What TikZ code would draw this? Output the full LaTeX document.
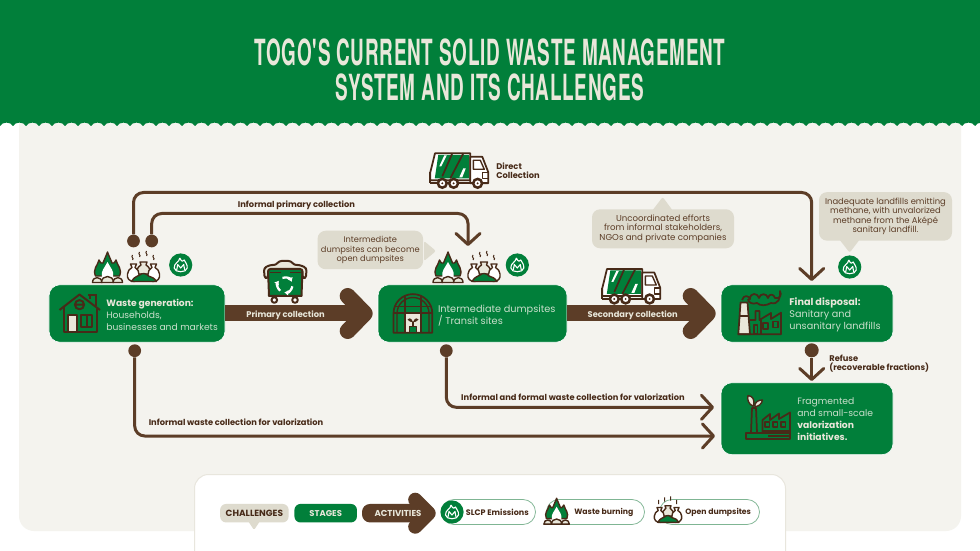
\documentclass[tikz,border=0pt]{standalone}
\usepackage{fontspec}
\setmainfont{Poppins}
\newfontfamily\titlefont[FakeStretch=0.525,LetterSpace=2]{TeX Gyre Heros}
\usetikzlibrary{arrows.meta}
\usetikzlibrary{positioning}
\definecolor{tgreen}{HTML}{017F3A}
\definecolor{tbrown}{HTML}{5C3D27}
\definecolor{tdark}{HTML}{472A18}
\definecolor{tpanel}{HTML}{F4F3EE}
\definecolor{tcall}{HTML}{DEDBCE}
\definecolor{tcream}{HTML}{E9E7DA}
\definecolor{tsoft}{HTML}{C9DFCB}
\definecolor{tpill}{HTML}{7FB593}
\tikzset{
  stagebox/.style={rectangle,rounded corners=2.2mm,fill=tgreen,draw=white,line width=0.12mm,inner sep=0},
  dotnode/.style={circle,fill=tbrown,inner sep=0,minimum size=2.55mm},
  thinarrow/.style={draw=tbrown,line width=0.6mm,rounded corners=2mm,-{Straight Barb[length=2.2mm,width=4.8mm,round]}},
  bigarrow/.style={draw=tbrown,line width=3.2mm,-{Straight Barb[length=3.4mm,width=7mm,round]}},
  steptext/.style={text=tsoft,align=left,anchor=west,inner sep=0},
  actlabel/.style={font=\fontsize{4.72}{5.2}\selectfont\bfseries,text=tdark,align=left,inner sep=0},
  leglabel/.style={font=\fontsize{4.4}{5}\selectfont\bfseries,text=tdark,anchor=west,inner sep=0},
  calltext/.style={rectangle,rounded corners=1.6mm,fill=tcall,text=tbrown,align=center,inner sep=0,execute at begin node=\rule{0pt}{5.4pt}},
  pillbox/.style={rectangle,rounded corners=2.5mm,draw=tpill,line width=0.15mm,fill=white,minimum height=5mm,inner sep=0},
  iconline/.style={draw=tdark,line width=0.28mm,line join=round},
  pics/burnicon/.style={code={
    \draw[iconline,fill=tgreen] (-12,9) .. controls (-15,2) and (-10,-1) .. (-8.5,-7) .. controls (-7,-4) and (-5.5,-3) .. (-4.5,-4) .. controls (-3,-8) and (-1,-12) .. (0,-15) .. controls (1,-12) and (3,-8) .. (4.5,-4) .. controls (5.5,-3) and (7,-4) .. (8.5,-7) .. controls (10,-1) and (15,2) .. (12,9) -- cycle;
    \fill[white] (-5.5,10) .. controls (-7,4) and (-3,1) .. (0,-5) .. controls (3,1) and (7,4) .. (5.5,10) -- cycle;
    \draw[iconline,fill=tcream] (-15,15.5) .. controls (-15,9) and (-6,9) .. (-5.5,15.5) -- cycle;
    \draw[iconline,fill=tcream] (-6,15.5) .. controls (-6,7.5) and (6,7.5) .. (6,15.5) -- cycle;
    \draw[iconline,fill=tcream] (5.5,15.5) .. controls (6,9) and (15,9) .. (15,15.5) -- cycle;
  }},
  pics/dumpicon/.style={code={
    \draw[iconline,fill=tcream] (-3.5,-5) -- (3.5,-5) -- (2.5,-2) .. controls (6,0) and (7,3) .. (7,7) -- (-7,7) .. controls (-7,3) and (-6,0) .. (-2.5,-2) -- cycle;
    \draw[iconline,fill=white] (-13,-3) -- (-7,-3) -- (-8.5,0.5) .. controls (-3,3) and (-3,13) .. (-9,14.5) .. controls (-14,15) and (-17,11) .. (-16,7) .. controls (-16,4) and (-14,2) .. (-11.5,0.5) -- cycle;
    \draw[iconline,fill=white] (13,-3) -- (7,-3) -- (8.5,0.5) .. controls (3,3) and (3,13) .. (9,14.5) .. controls (14,15) and (17,11) .. (16,7) .. controls (16,4) and (14,2) .. (11.5,0.5) -- cycle;
    \draw[iconline,fill=tgreen] (-12,14.5) .. controls (-9,9) and (-6,10) .. (-4,8) .. controls (-1,5.5) and (3,6.5) .. (5,9) .. controls (8,10) and (11,11) .. (13,14.5) -- cycle;
    \foreach \fx/\fy in {-11/-7,-4/-10,3/-11,10/-7} {
      \draw[draw=tdark,line width=0.2mm] (\fx,\fy) .. controls (\fx+2,\fy-2) and (\fx-2,\fy-2.5) .. (\fx,\fy-5);
    }
  }},
  pics/slcpicon/.style={code={
    \fill[tgreen] (0,0) circle[radius=11.6];
    \draw[white,line width=0.22mm,line join=round] (-1,-7) .. controls (-1,-3) and (-7,-2) .. (-6.5,3) .. controls (-6,8) and (6,8) .. (6.5,3) .. controls (7,-1) and (4,-3) .. (3.5,-5) .. controls (2.5,-3) and (1,-3) .. (-1,-7);
    \draw[white,line width=0.22mm,line join=round] (-4,5) -- (-3,-0.5) -- (0,3) -- (3,-0.5) -- (4,5);
  }},
  pics/truckicon/.style={code={
    \draw[iconline,line width=0.35mm,fill=white] (4.7,0) -- (40,0) -- (40,27) -- (0,27) -- (0,19) -- cycle;
    \fill[tgreen] (8,1.5) -- (38.5,1.5) -- (38.5,25) -- (4.5,25) -- cycle;
    \fill[white] (14,2) -- (16.5,2) -- (11,13) -- (9,13) -- cycle;
    \fill[white] (33,15) -- (35.5,15) -- (32,24) -- (29,24) -- cycle;
    \draw[iconline,line width=0.35mm] (22,0) -- (12,23) (33,0) -- (20,25);
    \draw[iconline,line width=0.35mm,fill=white] (40,3.5) -- (52,3.5) -- (58,19) -- (58,30) -- (40,30) -- cycle;
    \draw[iconline] (43,7) -- (50,7) -- (54,16) -- (43,16) -- cycle;
    \draw[iconline] (52,19) rectangle (58,25);
    \draw[iconline,line width=0.35mm] (0,30) -- (58,30) (0,19) -- (0,30);
    \foreach \wx in {12,23.3,47.3} {
      \draw[draw=tdark,line width=0.5mm,fill=white] (\wx,30) circle[radius=4.4];
      \fill[tdark] (\wx,30) circle[radius=1.1];
    }
  }}
}
\begin{document}
\begin{tikzpicture}[x=0.2mm,y=-0.2mm]
\useasboundingbox (0,0) rectangle (980,551);
\fill[white] (0,0) rectangle (980,551);
\fill[tpanel,rounded corners=3mm] (19,100) rectangle (961,531);
\fill[tgreen] (0,0) rectangle (980,121);
\foreach \sx in {0,13,...,975} {
  \fill[tgreen] (\sx,120.5) -- (\sx+13,120.5) -- (\sx+13,126) .. controls (\sx+11,121.5) and (\sx+2,121.5) .. (\sx,126) -- cycle;
}
\node[font=\titlefont\bfseries\fontsize{20.5}{19.9}\selectfont,text=tcream,align=center,inner sep=0] (title) at (490,70) {TOGO'S CURRENT SOLID WASTE MANAGEMENT\\SYSTEM AND ITS CHALLENGES};

% stages
\node[stagebox,minimum width=35.2mm,minimum height=11.5mm] (waste) at (137,313.5) {};
\node[stagebox,minimum width=37.8mm,minimum height=11.5mm] (dumps) at (472.5,313.5) {};
\node[stagebox,minimum width=34.4mm,minimum height=11.5mm] (final) at (807,313.5) {};
\node[stagebox,minimum width=34.4mm,minimum height=14.4mm] (valor) at (807,418.7) {};
\node[steptext,font=\fontsize{5.22}{6.8}\selectfont] (wastetxt) at (106,315) {\textcolor{tcream}{\bfseries Waste generation:}\\Households,\\businesses and markets};
\node[steptext,font=\fontsize{5.55}{6.8}\selectfont] (dumpstxt) at (437.7,315.5) {Intermediate dumpsites\\/ Transit sites};
\node[steptext,font=\fontsize{5.5}{6.8}\selectfont] (finaltxt) at (789,315) {\textcolor{tcream}{\bfseries Final disposal:}\\Sanitary and\\unsanitary landfills};
\node[steptext,font=\fontsize{5.25}{6.8}\selectfont] (valortxt) at (797,419.5) {Fragmented\\and small-scale\\\textcolor{tcream}{\bfseries valorization}\\\textcolor{tcream}{\bfseries initiatives.}};

% activities
\draw[bigarrow,shorten >=1mm] (waste.east) -- (dumps.west);
\draw[bigarrow,shorten >=1mm] (dumps.east) -- (final.west);
\node[font=\fontsize{4.73}{6}\selectfont\bfseries,text=tcream,inner sep=0] (primlab) at (285.5,315) {Primary collection};
\node[font=\fontsize{4.73}{6}\selectfont\bfseries,text=tcream,inner sep=0] (seclab) at (632.7,315) {Secondary collection};

\node[dotnode] (dota) at (133.5,241) {};
\node[dotnode] (dotb) at (151.7,241) {};
\node[dotnode] (dotc) at (134.7,350.7) {};
\node[dotnode] (dotd) at (446.3,350.7) {};
\node[dotnode,minimum size=2.8mm] (dote) at (811.7,350.3) {};
\coordinate (tipa) at (811.7,281);
\coordinate (tipb) at (468,246);
\coordinate (tipc) at (715,436);
\coordinate (tipd) at (714,407.3);
\draw[thinarrow] (dota) -- (133.5,192.5) -- (811.7,192.5) -- (tipa);
\draw[thinarrow] (dotb) -- (151.7,213.5) -- (468,213.5) -- (tipb);
\draw[thinarrow] (dotc) -- (134.7,436) -- (tipc);
\draw[thinarrow] (dotd) -- (446.3,407.3) -- (tipd);
\draw[thinarrow] (dote) -- (811.7,381);

\node[actlabel] (lab1) at (296.5,205) {Informal primary collection};
\node[actlabel,anchor=west] (lab2) at (496,170.5) {Direct\\Collection};
\node[actlabel] (lab3) at (573,397.5) {Informal and formal waste collection for valorization};
\node[actlabel] (lab4) at (236,422.5) {Informal waste collection for valorization};
\node[actlabel,anchor=west] (lab5) at (829,363.5) {Refuse\\(recoverable fractions)};

% challenges
\node[calltext,font=\fontsize{4.7}{5.45}\selectfont,minimum width=21.1mm,minimum height=7.7mm] (call1) at (370.3,250) {Intermediate\\dumpsites can become\\open dumpsites};
\fill[tcall,rounded corners=0.4mm] (424,241) -- (436,251) -- (424,261) -- cycle;
\node[calltext,font=\fontsize{4.9}{5.45}\selectfont,minimum width=28.4mm,minimum height=7.8mm] (call2) at (663,228.8) {Uncoordinated efforts\\from informal stakeholders,\\NGOs and private companies};
\fill[tcall,rounded corners=0.4mm] (652,211) -- (662.7,197) -- (673,211) -- cycle;
\node[calltext,font=\fontsize{4.78}{5.45}\selectfont,minimum width=26.6mm,minimum height=9.7mm] (call3) at (885.5,216.4) {Inadequate landfills emitting\\methane, with unvalorized\\methane from the Aképé\\sanitary landfill.};
\fill[tcall,rounded corners=0.4mm] (839,239) -- (849.7,252.7) -- (860,239) -- cycle;

% small icons
\pic at (107.5,267) {burnicon};
\pic at (143.5,267) {dumpicon};
\pic at (180.7,265) {slcpicon};
\pic at (448,267) {burnicon};
\pic at (484,267) {dumpicon};
\pic at (517.3,265) {slcpicon};
\pic at (849.7,267) {slcpicon};
\pic at (430.3,153.3) {truckicon};
\pic at (602.3,269) {truckicon};

% house
\draw[iconline,line width=0.4mm] (59.5,310) -- (79.5,294.5) -- (100,310);
\draw[iconline,line width=0.4mm] (64,307) -- (64,332) -- (96.5,332) -- (96.5,307);
\draw[iconline,line width=0.4mm] (90,299) -- (90,295) -- (95.5,295) -- (95.5,306) (88,295) -- (97,295);
\draw[iconline,line width=0.4mm] (79.5,304.7) circle[radius=4.6] (76,304.7) -- (83,304.7);
\draw[iconline,line width=0.4mm,fill=tcream] (68,315) rectangle (77,332);
\draw[iconline,line width=0.4mm] (81,315) rectangle (92,327) (86.5,315) -- (86.5,327);

% bin
\draw[iconline,line width=0.4mm,fill=tgreen] (268,269) -- (302.5,269) -- (301.5,296) -- (269,296) -- cycle;
\draw[iconline,line width=0.4mm,fill=tcream,rounded corners=0.5mm] (264.5,278) -- (264,268) -- (270,265) -- (276,265) -- (279,261) -- (291,261) -- (294,265) -- (300,265) -- (306.5,268) -- (306,278) -- (302.5,278) -- (302.5,269) -- (268,269) -- (268,278) -- cycle;
\draw[iconline] (270,272.5) -- (281,272.5) (290,272.5) -- (301,272.5);
\foreach \ra in {10,130,250} {
  \draw[white,line width=0.45mm,-{Latex[length=0.8mm,width=1.2mm]}] ([shift={(\ra:7.5)}]285,285) arc[start angle=\ra,delta angle=85,radius=7.5];
}
\draw[iconline,line width=0.4mm,fill=white] (274.3,300) circle[radius=2.8];
\draw[iconline,line width=0.4mm,fill=white] (295,300) circle[radius=2.8];

% greenhouse
\draw[iconline,fill=tcream] (405,313) rectangle (421,332.7);
\draw[iconline,line width=0.35mm] (393.5,332.7) -- (393.5,313.5) arc[start angle=180,end angle=360,radius=19.4] -- (432.3,332.7) -- cycle;
\draw[iconline] (397,332.7) -- (397,313.5) arc[start angle=180,end angle=360,radius=16] -- (429,332.7);
\draw[iconline] (393.5,313) -- (432.3,313) (393.5,306.5) -- (432.3,306.5) (405,296) -- (405,332.7) (421,296) -- (421,332.7);
\fill[tgreen] (409.3,326.7) rectangle (416.5,332.7);
\draw[iconline] (409.3,326.7) rectangle (416.5,332.7) (413,326.7) -- (413,322);
\fill[tdark] (413,322) .. controls (411,317) and (408,318) .. (407.5,319.5) .. controls (409,322) and (411,322) .. (413,322);
\fill[tdark] (413,322) .. controls (415,317) and (418,318) .. (418.5,319.5) .. controls (417,322) and (415,322) .. (413,322);

% landfill plant
\draw[iconline,line width=0.35mm] (742,300) .. controls (744,294) and (749,296) .. (750,299) .. controls (750,292) and (758,293) .. (759,298) .. controls (760,293) and (767,293) .. (768,298) .. controls (769,293) and (774,294) .. (775,298) .. controls (780,299) and (782,295) .. (780,291) .. controls (781,298) and (778,305) .. (771,303) .. controls (766,306) and (760,306) .. (757,303) .. controls (752,305) and (748,302) .. (748,299);
\draw[iconline,line width=0.35mm,fill=tcream] (740.5,302.5) -- (747.5,302.5) -- (750,334.3) -- (738.3,334.3) -- cycle;
\draw[iconline,line width=0.35mm] (739.5,316) -- (748.5,316);
\draw[iconline,line width=0.35mm] (750,320) -- (755.5,320) -- (755.5,311) -- (759.5,311) -- (759.5,320) -- (771,313) -- (771,319) -- (781,312.7) -- (781,334.3) -- (738.3,334.3);
\draw[iconline] (754,325) rectangle (757.5,334) (763,323) rectangle (768,329) (773,321.5) rectangle (778,327.5) (761,320) -- (761,334);

% valorization plant
\draw[iconline,line width=0.35mm] (751,433) -- (752,408) -- (756,408) -- (757,433);
\draw[iconline,fill=tcream] (753.5,406.5) .. controls (748,404) and (747,399) .. (748,395.5) .. controls (753,396) and (755,400) .. (753.5,406.5);
\draw[iconline,fill=tcream] (754.5,406.5) .. controls (755,402) and (758,400) .. (762.5,400) .. controls (762,404) and (758,407) .. (754.5,406.5);
\draw[iconline,line width=0.35mm] (762.5,433) -- (762.5,420) -- (770,414) -- (770,420) -- (779,413.5) -- (779,419) -- (790,412.5) -- (790,433);
\draw[iconline] (765,422) rectangle (769.5,427) (773,422) rectangle (777.5,427) (781,422) rectangle (785.5,427);
\draw[iconline,line width=0.35mm] (746,433) rectangle (790,439);
\draw[iconline] (762,431) -- (790,431) (768,436) -- (790,436);

% legend
\draw[draw=tcall!70,line width=0.2mm,fill=white,rounded corners=2.8mm] (194.5,553) -- (194.5,474.5) -- (785.5,474.5) -- (785.5,553);
\node[rectangle,rounded corners=1.2mm,fill=tcall,minimum width=13.7mm,minimum height=3.7mm,inner sep=0,font=\fontsize{5.1}{5}\selectfont\bfseries,text=tdark] (legchal) at (254.4,513.2) {CHALLENGES};
\fill[tcall,rounded corners=0.3mm] (248,521) -- (254,530) -- (260,521) -- cycle;
\node[rectangle,rounded corners=1.2mm,fill=tgreen,minimum width=12.5mm,minimum height=3.7mm,inner sep=0,font=\fontsize{4.8}{5}\selectfont\bfseries,text=tcream] (legstage) at (325.7,513.2) {STAGES};
\node[rectangle,rounded corners=1.6mm,fill=tbrown,minimum width=11.2mm,minimum height=3.7mm,inner sep=0] (legact) at (390,513.2) {};
\coordinate (legtip) at (435.7,513.2);
\draw[draw=tbrown,line width=2.8mm,-{Straight Barb[length=2.7mm,width=5.4mm,round]}] (legact.center) -- (legtip);
\node[font=\fontsize{4.9}{5}\selectfont\bfseries,text=tcream,inner sep=0] (legacttxt) at (398,513.2) {ACTIVITIES};
\node[pillbox,minimum width=18.8mm] (pillslcp) at (488.5,512) {};
\node[pillbox,minimum width=19.6mm] (pillburn) at (595.5,512) {};
\node[pillbox,minimum width=20mm] (pilldump) at (709.5,512) {};
\pic at (452,512) {slcpicon};
\pic[scale=0.85] at (556.6,511) {burnicon};
\pic[scale=0.85] at (668,510) {dumpicon};
\node[leglabel,font=\fontsize{4.55}{5}\selectfont\bfseries] (legslcp) at (465.5,512) {SLCP Emissions};
\node[leglabel] (legburn) at (574,512) {Waste burning};
\node[leglabel] (legdump) at (685,512) {Open dumpsites};
\end{tikzpicture}
\end{document}
